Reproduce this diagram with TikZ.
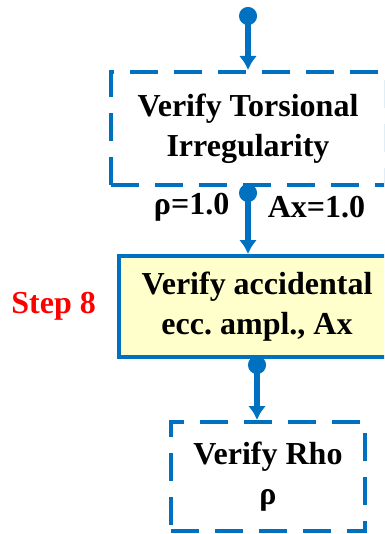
\documentclass[tikz,border=0pt]{standalone}
\usepackage{fontspec}
\setmainfont{Liberation Serif}
\usepackage{xcolor}
\usetikzlibrary{arrows.meta, positioning}
\definecolor{flowblue}{RGB}{0, 112, 192}
\definecolor{stepred}{RGB}{255, 0, 0}
\definecolor{boxyellow}{RGB}{255, 255, 204}
\frenchspacing

\begin{document}
\begin{tikzpicture}[x=1pt, y=-1pt,
	txt/.style={font=\bfseries\fontsize{32}{40}\selectfont, align=center, inner sep=0pt, text=black},
	dbox/.style={txt, draw=flowblue, line width=4pt, dash pattern=on 28pt off 16pt},
	sbox/.style={txt, draw=flowblue, line width=4pt, fill=boxyellow},
	flow/.style={{Circle[length=18pt]}-{Latex[length=14pt, width=18pt]}, flowblue, line width=5.5pt}]
	
	\useasboundingbox (0,0) rectangle (384,534);
	\clip (0,0) rectangle (384,534);
	
	%--- boxes ---
	\node[dbox, minimum width=275pt, minimum height=113pt] (tors) at (248,128.5)
	{Verify Torsional\\Irregularity};
	\node[sbox, minimum width=276pt, minimum height=101pt] (acc) at (257,306.5)
	{Verify accidental\\ecc. ampl., Ax};
	\node[dbox, minimum width=194pt, minimum height=109pt] (rho) at (268,476.5)
	{Verify Rho\\ρ};
	
	%--- step label ---
	\node[txt, text=stepred, left=21pt of acc] (step) {Step 8};
	
	%--- connectors ---
	\coordinate (in) at (248,7);
	\draw[flow] (in) -- (tors.north);
	\draw[flow, shorten <=-3pt] (tors.south) -- (tors.south |- acc.north)
	node[txt, pos=0.3, left=16pt] (rhoval) {ρ=1.0}
	node[txt, pos=0.3, right=17pt] (axval) {Ax=1.0};
	\draw[flow, shorten <=-3pt] (acc.south) -- (acc.south |- rho.north);
\end{tikzpicture}
\end{document}
